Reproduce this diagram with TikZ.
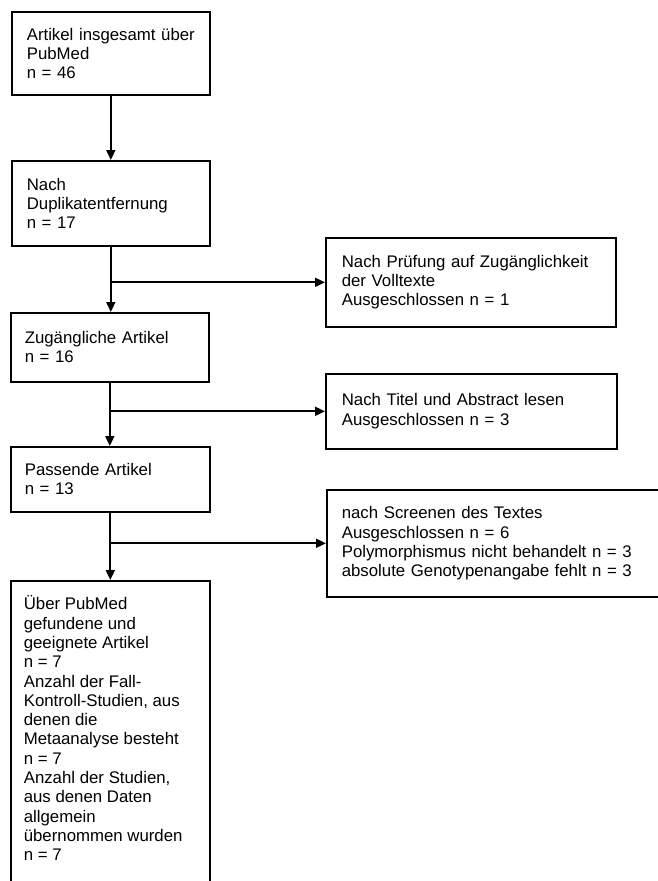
\documentclass[tikz,border=0pt]{standalone}
\usepackage{fontspec}
\setmainfont{Liberation Sans}
\usetikzlibrary{arrows.meta}
\begin{document}
\begin{tikzpicture}[x=1pt,y=-1pt,
  fbox/.style={draw, line width=1.6pt, anchor=north west, align=left, inner ysep=0pt,
    font=\fontsize{16.8pt}{19.3pt}\selectfont},
  flow/.style={line width=1.8pt, -{Triangle[length=10pt,width=9pt]}}]
\useasboundingbox (0,0) rectangle (658,881);
\clip (0,0) rectangle (658,881);
\fill[white] (0,0) rectangle (658,881);
% main column
\node[fbox, inner xsep=15pt, text width=168pt, minimum height=83pt] (b1) at (11,11)
  {\mbox{Artikel insgesamt über}\\PubMed\\n = 46};
\node[fbox, inner xsep=15pt, text width=168pt, minimum height=85pt] (b2) at (11,160)
  {Nach\\Duplikatentfernung\\n = 17};
\node[fbox, inner xsep=14pt, text width=170pt, minimum height=69pt] (b3) at (10,312)
  {Zugängliche Artikel\\n = 16};
\node[fbox, inner xsep=14pt, text width=171pt, minimum height=65pt] (b4) at (10,446)
  {Passende Artikel\\n = 13};
\node[draw, line width=1.6pt, anchor=north west, inner xsep=13pt, inner ysep=15pt,
    font=\fontsize{16.8pt}{19.3pt}\selectfont] (b5) at (10,580)
  {\parbox[c][330pt][t]{173pt}{\raggedright
   Über PubMed\\gefundene und\\geeignete Artikel\\n = 7\\Anzahl der Fall-\\Kontroll-Studien, aus\\denen die\\Metaanalyse besteht\\n = 7\\Anzahl der Studien,\\aus denen Daten\\allgemein\\übernommen wurden\\n = 7}};
% side boxes
\node[fbox, inner xsep=16pt, text width=258pt, minimum height=89pt] (r1) at (325,237)
  {Nach Prüfung auf Zugänglichkeit\\der Volltexte\\Ausgeschlossen n = 1};
\node[fbox, inner xsep=16pt, text width=259pt, minimum height=75pt] (r2) at (325,373)
  {Nach Titel und Abstract lesen\\Ausgeschlossen n = 3};
\node[fbox, inner xsep=15pt, text width=330pt, minimum height=107pt] (r3) at (326,489)
  {nach Screenen des Textes\\Ausgeschlossen n = 6\\Polymorphismus nicht behandelt n = 3\\absolute Genotypenangabe fehlt n = 3};
% connectors
\draw[flow] (b1.south) -- (b1.south |- b2.north);
\draw[flow] (b2.south) -- (b2.south |- b3.north);
\draw[flow] (b3.south) -- (b3.south |- b4.north);
\draw[flow] (b4.south) -- (b4.south |- b5.north);
\coordinate (j1) at (b2.south |- r1.west);
\coordinate (j2) at (b3.south |- r2.west);
\coordinate (j3) at (b4.south |- r3.west);
\draw[flow] (j1) -- (r1.west);
\draw[flow] (j2) -- (r2.west);
\draw[flow] (j3) -- (r3.west);
\end{tikzpicture}
\end{document}
